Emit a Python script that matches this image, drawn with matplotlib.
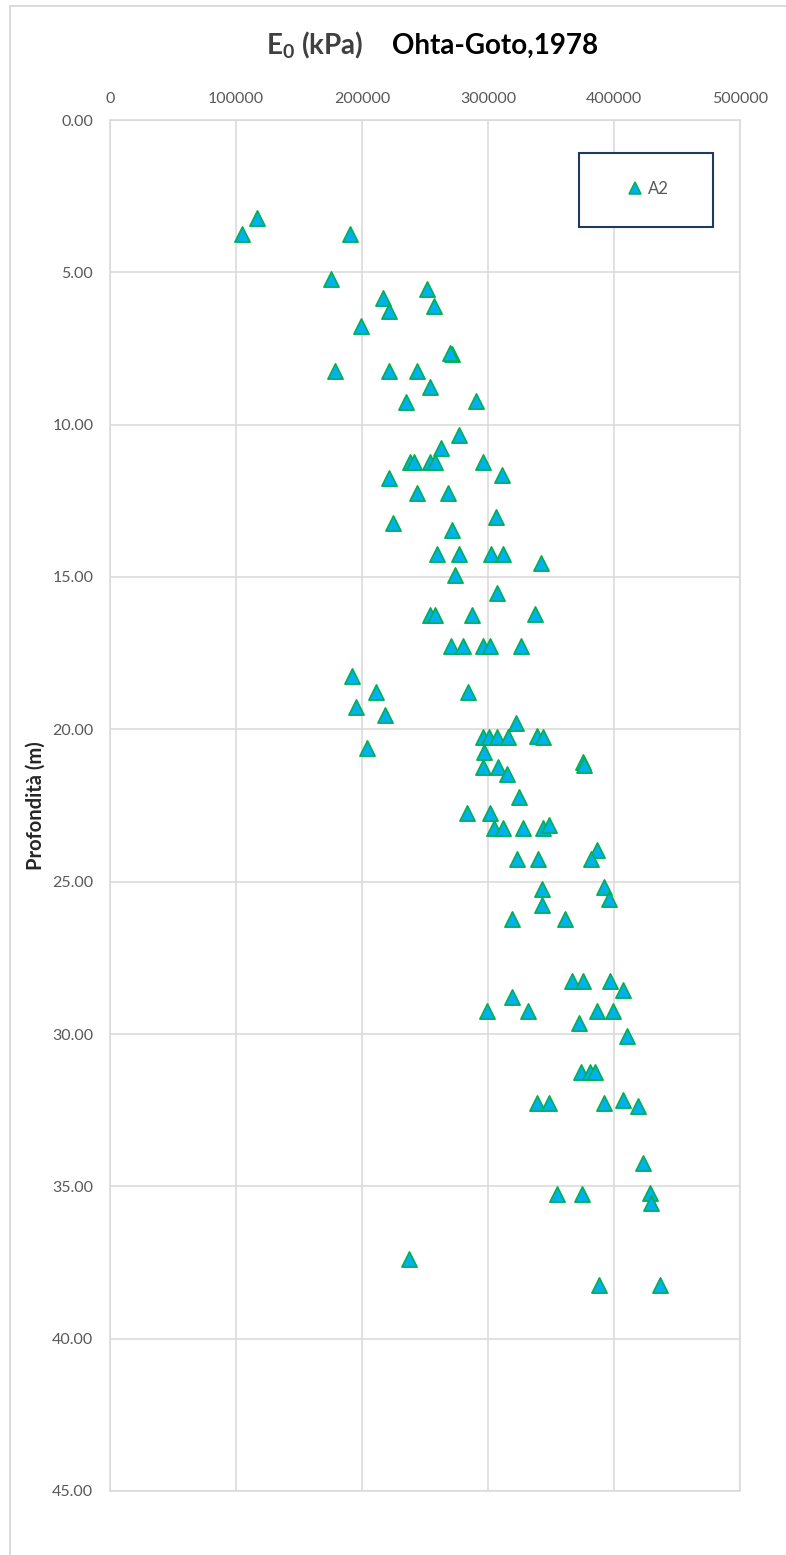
import matplotlib
matplotlib.use("Agg")
import matplotlib.pyplot as plt
from matplotlib.patches import Rectangle
from matplotlib.lines import Line2D
from matplotlib.ticker import FormatStrFormatter

plt.rcParams['font.family'] = ['Lato', 'DejaVu Sans']

# Small-strain modulus E0 (kPa) and depth (m), series A2
e0_kpa = [
    116400, 104500, 190500, 175600, 251800, 216400, 221700, 257100, 199200,
    271200, 269800, 178600, 221700, 243400, 254000, 234900, 290500, 276600,
    262700, 238100, 241500, 254000, 257900, 295800, 311100, 221700, 243800,
    268000, 306100, 224800, 271700, 259300, 277200, 302400, 312100, 342100,
    273800, 307400, 254000, 257900, 287100, 337500, 270600, 280400, 295800,
    301600, 325900, 192300, 210900, 284100, 195500, 218000, 322200, 296300,
    300800, 306900, 316100, 338600, 343400, 204200, 297100, 375100, 376200,
    296300, 308200, 314800, 324600, 283300, 301600, 304800, 312200, 328000,
    343900, 348600, 386300, 381500, 323000, 339900, 392300, 342600, 396300,
    342600, 319300, 361100, 366400, 375100, 396800, 407400, 318800, 299500,
    332000, 386800, 399400, 372200, 410300, 373800, 381000, 384900, 338600,
    348100, 392100, 407400, 418800, 423300, 354500, 374400, 428600, 429400,
    237300, 387800, 436500,
]
depth_m = [
    3.23, 3.75, 3.75, 5.23, 5.56, 5.83, 6.26, 6.11, 6.75,
    7.68, 7.66, 8.23, 8.23, 8.23, 8.75, 9.25, 9.21, 10.34,
    10.75, 11.24, 11.24, 11.24, 11.24, 11.24, 11.65, 11.76, 12.25,
    12.25, 13.02, 13.24, 13.46, 14.25, 14.25, 14.25, 14.25, 14.53,
    14.93, 15.54, 16.25, 16.25, 16.25, 16.21, 17.26, 17.26, 17.26,
    17.26, 17.26, 18.25, 18.77, 18.79, 19.26, 19.54, 19.78, 20.24,
    20.24, 20.24, 20.24, 20.22, 20.24, 20.62, 20.73, 21.06, 21.17,
    21.25, 21.25, 21.48, 22.23, 22.76, 22.76, 23.25, 23.25, 23.25,
    23.25, 23.14, 23.96, 24.26, 24.26, 24.26, 25.17, 25.25, 25.58,
    25.77, 26.24, 26.24, 28.25, 28.25, 28.25, 28.56, 28.78, 29.25,
    29.25, 29.25, 29.25, 29.63, 30.07, 31.25, 31.25, 31.25, 32.26,
    32.26, 32.26, 32.17, 32.36, 34.24, 35.25, 35.25, 35.23, 35.54,
    37.40, 38.25, 38.25,
]
series_label = "A2"
x_ticks = [0, 100000, 200000, 300000, 400000, 500000]
y_ticks = [0, 5, 10, 15, 20, 25, 30, 35, 40, 45]

W, H = 786, 1555
fig = plt.figure(figsize=(W / 100, H / 100), dpi=100)
fig.patch.set_facecolor("white")

grid_c = "#D9D9D9"
tick_c = "#595959"
face_c = "#00B0F0"
edge_c = "#00B050"

ax = fig.add_axes([110 / W, 1 - 1491 / H, 630 / W, 1371 / H])
ax.set_xlim(0, 500000)
ax.set_ylim(45, 0)
ax.set_xticks(x_ticks)
ax.set_yticks(y_ticks)
ax.yaxis.set_major_formatter(FormatStrFormatter("%.2f"))
ax.xaxis.tick_top()
ax.tick_params(axis="both", length=0, labelsize=11.5, labelcolor=tick_c)
ax.tick_params(axis="x", pad=10)
ax.tick_params(axis="y", pad=12)
ax.grid(True, color=grid_c, linewidth=1.1)
ax.set_axisbelow(True)
for sp in ax.spines.values():
    sp.set_color(grid_c)
    sp.set_linewidth(1.1)

ax.scatter(e0_kpa, depth_m, marker="^", s=120, facecolor=face_c,
           edgecolor=edge_c, linewidths=1.2, zorder=3, clip_on=False)

# Legend box
ax.add_patch(Rectangle((0.745, 0.922), 0.2125, 0.054, transform=ax.transAxes,
                       facecolor="white", edgecolor="#1F3864", linewidth=1.5,
                       zorder=4))
handle = Line2D([], [], linestyle="none", marker="^", markersize=8.5,
                markerfacecolor=face_c, markeredgecolor=edge_c,
                markeredgewidth=1.1)
leg = ax.legend([handle], [series_label], loc="center",
                bbox_to_anchor=(0.856, 0.950), frameon=False,
                handlelength=0.6, handletextpad=0.5, fontsize=12,
                labelcolor=tick_c)
leg.set_zorder(5)

# Title
fig.text(266 / W, 1 - 54 / H, r"E$_\mathregular{0}$ (kPa)", fontsize=20,
         fontweight="bold", color="#404040", ha="left", va="baseline")
fig.text(392 / W, 1 - 54 / H, "Ohta-Goto,1978", fontsize=20,
         fontweight="bold", color="black", ha="left", va="baseline")

# Axis title
fig.text(36 / W, 1 - 806 / H, "Profondità (m)", fontsize=14.5,
         fontweight="bold", color="#262626", rotation=90,
         ha="center", va="center")

# Chart-area border
fig.add_artist(Line2D([10 / W, 10 / W], [0, 1 - 6 / H], color=grid_c,
                      linewidth=1.3, transform=fig.transFigure))
fig.add_artist(Line2D([10 / W, 1], [1 - 6 / H, 1 - 6 / H], color=grid_c,
                      linewidth=1.3, transform=fig.transFigure))

fig.savefig("out.png", dpi=100, facecolor="white")
